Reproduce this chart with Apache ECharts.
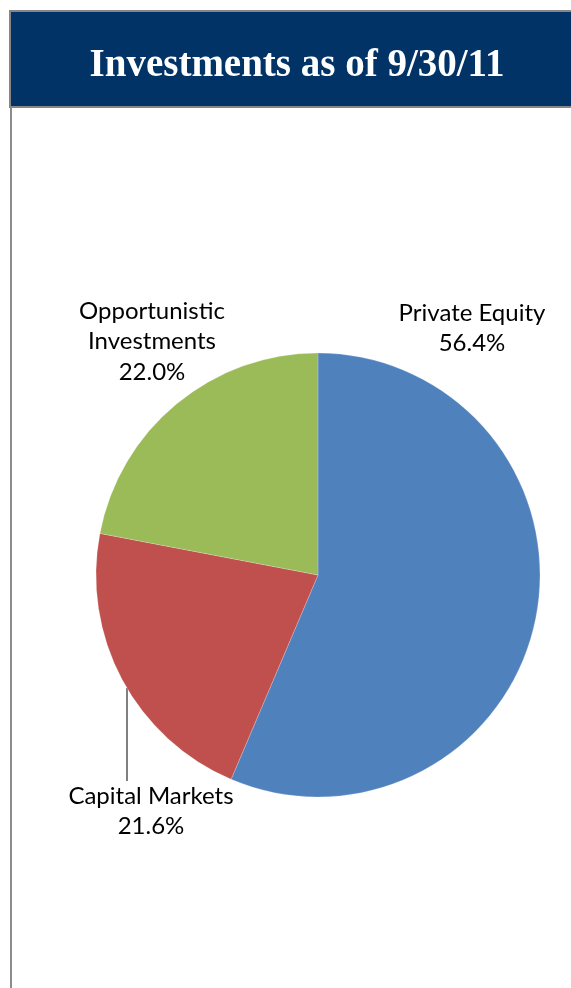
<!DOCTYPE html>
<html>
<head>
    <meta charset="utf-8">
    <title>Investments as of 9/30/11</title>
    <script src="https://cdn.jsdelivr.net/npm/echarts@6/dist/echarts.min.js"></script>
    <style>
        body { margin: 0; background: #ffffff; }
        #main { width: 571px; height: 988px; }
    </style>
</head>
<body>
    <div id="main"></div>
    <script>
        // data
        var categories = ['Private Equity', 'Capital Markets', 'Opportunistic\nInvestments'];
        var shares = [56.4, 21.6, 22.0];
        var colors = ['#4f81bd', '#c0504d', '#9bbb59'];

        // where each label sits (center x, top y)
        var labelSpots = [[472, 298], [151, 781], [152, 296]];

        var chart = echarts.init(document.getElementById('main'));
        chart.setOption({
            animation: false,
            title: {
                text: 'Investments as of 9/30/11',
                left: 292,
                top: 41,
                textAlign: 'center',
                textStyle: {
                    fontFamily: 'Liberation Serif',
                    fontWeight: 'bold',
                    fontSize: 39,
                    color: '#ffffff'
                }
            },
            graphic: [
                {
                    type: 'rect',
                    shape: { x: 10, y: 11, width: 570, height: 96 },
                    style: { fill: '#023366', stroke: '#868686', lineWidth: 2 },
                    z: -1
                },
                {
                    type: 'line',
                    shape: { x1: 11, y1: 107, x2: 11, y2: 988 },
                    style: { stroke: '#8c8c8c', lineWidth: 2 }
                }
            ],
            series: [{
                type: 'pie',
                center: [318, 575],
                radius: 222,
                startAngle: 90,
                clockwise: true,
                avoidLabelOverlap: false,
                color: colors,
                itemStyle: { borderColor: 'rgba(255,255,255,0.4)', borderWidth: 0.5 },
                label: {
                    show: true,
                    position: 'outside',
                    fontFamily: 'Lato',
                    fontSize: 24,
                    lineHeight: 30.5,
                    color: '#000000',
                    align: 'center',
                    overflow: 'none',
                    formatter: function (p) {
                        return p.name + '\n' + p.value.toFixed(1) + '%';
                    }
                },
                labelLine: {
                    show: true,
                    lineStyle: { color: '#808080', width: 2 }
                },
                labelLayout: function (params) {
                    var s = labelSpots[params.dataIndex];
                    var out = { x: s[0], y: s[1], align: 'center', verticalAlign: 'top' };
                    if (params.dataIndex === 1) {
                        out.labelLinePoints = [[127, 688], [127, 688], [127, 781]];
                    }
                    return out;
                },
                data: categories.map(function (c, i) {
                    return {
                        name: c,
                        value: shares[i],
                        labelLine: { show: i === 1 }
                    };
                })
            }]
        });
    </script>
</body>
</html>
